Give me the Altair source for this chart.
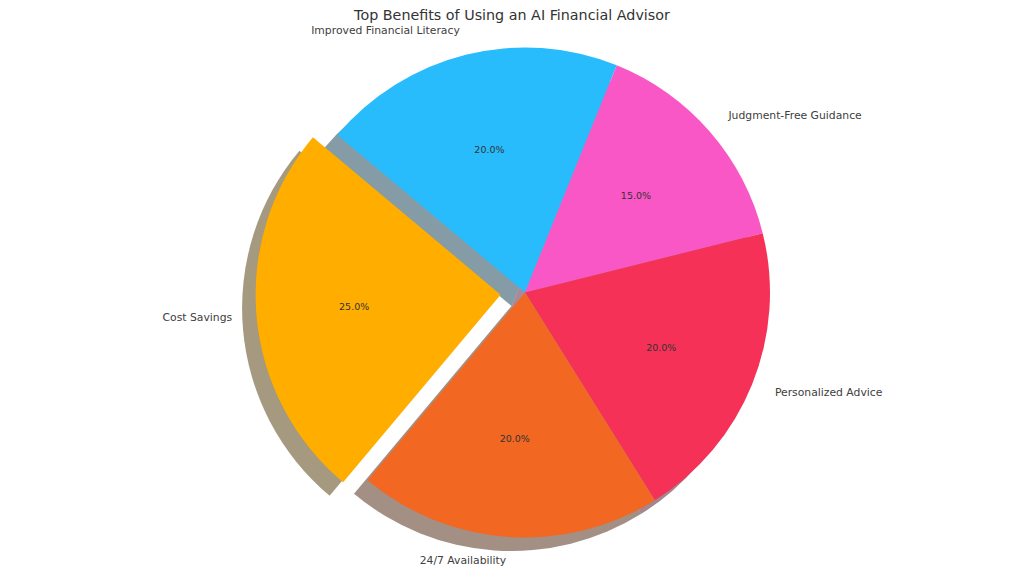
import math
import altair as alt
import pandas as pd

# ---- data (clockwise order starting at the top-left) ----
labels = ["Improved Financial Literacy", "Judgment-Free Guidance",
          "Personalized Advice", "24/7 Availability", "Cost Savings"]
values = [20, 15, 20, 20, 25]
explode = [0, 0, 0, 0, 0.1]
colors = ["#29BCFD", "#F957C5", "#F53157", "#F26822", "#FFAE00"]

TITLE = "Top Benefits of Using an AI Financial Advisor"

# ---- layout ----
W, H = 1008, 536
CX, CY = 517, 264.5        # pie centre (plot-area pixels)
R = 245                    # pie radius
START = math.radians(310)  # angle of first slice edge (clockwise from 12 o'clock)
SDX, SDY = -13.5, 13.5     # shadow offset
TOTAL = sum(values)
FONT = "DejaVu Sans"


def shade(hex_color, k=0.3):
    h = hex_color.lstrip("#")
    r, g, b = (int(h[i:i + 2], 16) for i in (0, 2, 4))
    return "#{:02x}{:02x}{:02x}".format(int(r * k), int(g * k), int(b * k))


shadow_colors = [shade(c) for c in colors]

df = pd.DataFrame({"label": labels, "value": values, "idx": list(range(len(labels))),
                   "explode": explode})

theta_scale = alt.Scale(domain=[0, TOTAL], range=[START, START + 2 * math.pi])

base = (
    alt.Chart(df)
    .transform_window(cum="sum(value)", sort=[alt.SortField("idx")], frame=[None, 0])
    .transform_calculate(
        start="datum.cum - datum.value",
        mid="datum.cum - datum.value / 2",
    )
    .transform_calculate(
        ang=f"{START} + 2 * PI * datum.mid / {TOTAL}",
    )
    .transform_calculate(
        cx=f"{CX} + datum.explode * {R} * sin(datum.ang)",
        cy=f"{CY} - datum.explode * {R} * cos(datum.ang)",
        side="sin(datum.ang) > 0 ? 'left' : 'right'",
        pct=f"format(datum.value / {TOTAL} * 100, '.1f') + '%'",
    )
    .transform_calculate(
        scx=f"datum.cx + {SDX}",
        scy=f"datum.cy + {SDY}",
    )
)

theta = alt.Theta("start:Q", scale=theta_scale, stack=None)
theta2 = alt.Theta2("cum:Q")
theta_mid = alt.Theta("mid:Q", scale=theta_scale, stack=None)

shadow = base.mark_arc(opacity=0.5, outerRadius=R).encode(
    theta=theta, theta2=theta2,
    x=alt.X("scx:Q", scale=None), y=alt.Y("scy:Q", scale=None),
    color=alt.Color("label:N", scale=alt.Scale(domain=labels, range=shadow_colors), legend=None),
)

wedges = base.mark_arc(outerRadius=R).encode(
    theta=theta, theta2=theta2,
    x=alt.X("cx:Q", scale=None), y=alt.Y("cy:Q", scale=None),
    color=alt.Color("label:N", scale=alt.Scale(domain=labels, range=colors), legend=None),
)

pct_text = base.mark_text(radius=0.6 * R, font=FONT, fontSize=9.5, color="#333333",
                          align="center", baseline="middle").encode(
    theta=theta_mid,
    x=alt.X("cx:Q", scale=None), y=alt.Y("cy:Q", scale=None),
    text="pct:N",
)

label_left = base.transform_filter("datum.side == 'left'").mark_text(
    radius=1.1 * R, font=FONT, fontSize=10.8, color="#404040", align="left", baseline="middle"
).encode(
    theta=theta_mid,
    x=alt.X("cx:Q", scale=None), y=alt.Y("cy:Q", scale=None),
    text="label:N",
)

label_right = base.transform_filter("datum.side == 'right'").mark_text(
    radius=1.1 * R, font=FONT, fontSize=10.8, color="#404040", align="right", baseline="middle"
).encode(
    theta=theta_mid,
    x=alt.X("cx:Q", scale=None), y=alt.Y("cy:Q", scale=None),
    text="label:N",
)

chart = (
    alt.layer(shadow, wedges, pct_text, label_left, label_right)
    .resolve_scale(color="independent")
    .properties(
        width=W, height=H, padding=0,
        title=alt.TitleParams(TITLE, font=FONT, fontSize=14.3, fontWeight="normal",
                              color="#333333", anchor="middle", offset=2),
    )
    .configure_view(stroke=None)
)

chart.save("out.html", embed_options={"renderer": "svg", "actions": False})
